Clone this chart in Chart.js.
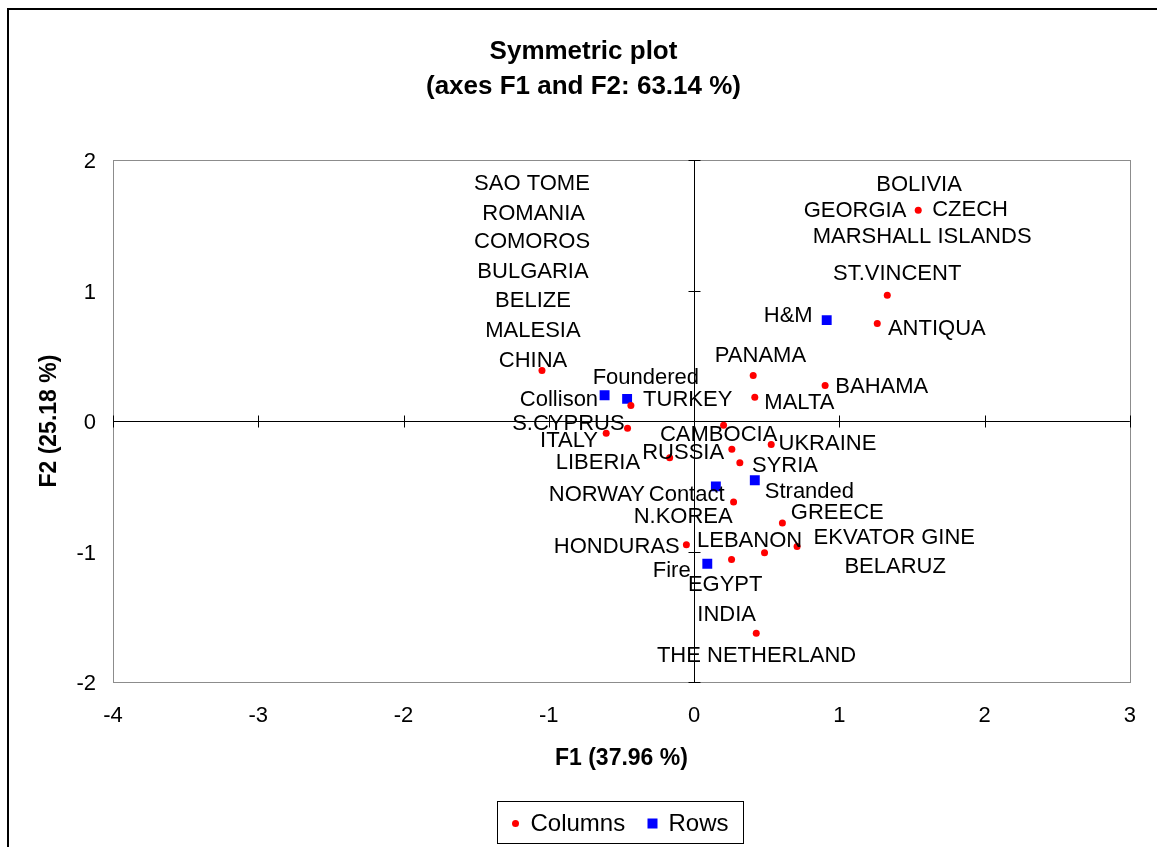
<!DOCTYPE html>
<html>
<head>
<meta charset="utf-8">
<title>Symmetric plot</title>
<script src="https://cdn.jsdelivr.net/npm/chart.js@4/dist/chart.umd.min.js"></script>
<style>
  html, body { margin: 0; padding: 0; background: #ffffff; }
  #wrap { width: 1157px; height: 847px; }
</style>
</head>
<body>
<div id="wrap"><canvas id="scatterChart"></canvas></div>
<script>
// Columns (red dots)
const columnsX = [-1.047, -0.435, -0.458, -0.605, -0.168, 0.203, 0.260, 0.315, 0.531, 0.272, 0.608,
                  0.407, 0.418, 0.902, -0.053, 0.258, 0.485, 0.709, 0.428, 1.543, 1.330, 1.261];
const columnsY = [0.388, 0.119, -0.055, -0.094, -0.280, -0.032, -0.216, -0.319, -0.180, -0.620, -0.782,
                  0.349, 0.183, 0.273, -0.948, -1.061, -1.010, -0.961, -1.626, 1.616, 0.964, 0.749];

// Rows (blue squares): Collison, Foundered, Contact, Stranded, H&M, Fire
const rowsX = [-0.616, -0.461, 0.150, 0.418, 0.913, 0.091];
const rowsY = [0.198, 0.170, -0.500, -0.454, 0.774, -1.094];

const xTickValues = [-4, -3, -2, -1, 0, 1, 2, 3];
const yTickValues = [-2, -1, 0, 1, 2];

const pointNames = ["SAO TOME", "ROMANIA", "COMOROS", "BULGARIA", "BELIZE", "MALESIA", "CHINA",
    "Foundered", "Collison", "TURKEY", "S.CYPRUS", "ITALY", "LIBERIA", "CAMBOCIA", "RUSSIA",
    "UKRAINE", "SYRIA", "NORWAY", "Contact", "Stranded", "N.KOREA", "GREECE", "EKVATOR GINE",
    "HONDURAS", "LEBANON", "BELARUZ", "Fire", "EGYPT", "INDIA", "THE NETHERLAND", "BOLIVIA",
    "GEORGIA", "CZECH", "MARSHALL ISLANDS", "ST.VINCENT", "H&M", "ANTIQUA", "PANAMA", "BAHAMA", "MALTA"];

// where each name sits, in axis units (label layout, as placed in the original)
const nameAnchors = [
    [-1.116, 1.836], [-1.104, 1.606], [-1.115, 1.388], [-1.109, 1.158], [-1.109, 0.933],
    [-1.109, 0.710], [-1.109, 0.480], [-0.332, 0.344], [-0.930, 0.178], [-0.044, 0.178],
    [-0.865, -0.009], [-0.861, -0.134], [-0.662, -0.309], [0.169, -0.088], [-0.075, -0.232],
    [0.918, -0.163], [0.626, -0.326], [-0.669, -0.547], [-0.051, -0.547], [0.794, -0.526],
    [-0.075, -0.723], [0.986, -0.687], [1.378, -0.879], [-0.532, -0.948], [0.382, -0.904],
    [1.384, -1.102], [-0.154, -1.132], [0.214, -1.240], [0.224, -1.468], [0.430, -1.785],
    [1.549, 1.823], [1.108, 1.629], [1.900, 1.637], [1.570, 1.424], [1.398, 1.146],
    [0.648, 0.825], [1.671, 0.720], [0.457, 0.516], [1.292, 0.278], [0.725, 0.152]
];

const FONT = "'Liberation Sans', Arial, Helvetica, sans-serif";

const decorations = {
    id: "decorations",
    beforeDatasetsDraw(chart) {
        const ctx = chart.ctx;
        const area = chart.chartArea;
        const xs = chart.scales.x;
        const ys = chart.scales.y;
        ctx.save();
        // plot frame
        ctx.strokeStyle = "#8c8c8c";
        ctx.lineWidth = 1;
        ctx.strokeRect(Math.round(area.left) + 0.5, Math.round(area.top) + 0.5,
            Math.round(area.right - area.left), Math.round(area.bottom - area.top));
        // tick marks on the zero axes
        ctx.strokeStyle = "#000000";
        const y0 = Math.round(ys.getPixelForValue(0)) + 0.5;
        const x0 = Math.round(xs.getPixelForValue(0)) + 0.5;
        ctx.beginPath();
        xTickValues.forEach((v) => {
            const px = Math.round(xs.getPixelForValue(v)) + 0.5;
            ctx.moveTo(px, y0 - 6);
            ctx.lineTo(px, y0 + 6);
        });
        yTickValues.forEach((v) => {
            const py = Math.round(ys.getPixelForValue(v)) + 0.5;
            ctx.moveTo(x0 - 6, py);
            ctx.lineTo(x0 + 6, py);
        });
        ctx.stroke();
        ctx.restore();
    },
    afterDatasetsDraw(chart) {
        const ctx = chart.ctx;
        const xs = chart.scales.x;
        const ys = chart.scales.y;
        ctx.save();
        ctx.font = "22px " + FONT;
        ctx.fillStyle = "#000000";
        ctx.textAlign = "center";
        ctx.textBaseline = "middle";
        pointNames.forEach((name, i) => {
            const a = nameAnchors[i];
            ctx.fillText(name, xs.getPixelForValue(a[0]), ys.getPixelForValue(a[1]) + 2);
        });
        ctx.restore();
    },
    afterDraw(chart) {
        const ctx = chart.ctx;
        const area = chart.chartArea;
        ctx.save();
        // outer chart frame
        ctx.strokeStyle = "#000000";
        ctx.lineWidth = 2;
        ctx.strokeRect(8, 9, chart.width + 10, chart.height + 10);
        // legend
        const boxW = 246, boxH = 42;
        const bx = Math.round((area.left + area.right) / 2 - boxW / 2) - 0.5;
        const by = chart.height - 46 + 0.5;
        ctx.lineWidth = 1;
        ctx.strokeRect(bx, by, boxW, boxH);
        const cy = by + boxH / 2;
        ctx.fillStyle = "#ff0000";
        ctx.beginPath();
        ctx.arc(bx + 18, cy + 1, 3.5, 0, Math.PI * 2);
        ctx.fill();
        ctx.fillStyle = "#0000ff";
        ctx.fillRect(bx + 150, cy - 4, 10, 10);
        ctx.fillStyle = "#000000";
        ctx.font = "24px " + FONT;
        ctx.textAlign = "left";
        ctx.textBaseline = "middle";
        ctx.fillText("Columns", bx + 33, cy + 2);
        ctx.fillText("Rows", bx + 171, cy + 2);
        ctx.restore();
    }
};

const zeroLine = (c) => (c.tick && c.tick.value === 0 ? "#000000" : "rgba(0,0,0,0)");

const scatterCtx = document.getElementById("scatterChart").getContext("2d");

const scatterChart = new Chart(scatterCtx, {
    type: "scatter",
    data: {
        datasets: [
            {
                label: "Columns",
                data: columnsX.map((x, i) => ({ x: x, y: columnsY[i] })),
                backgroundColor: "#ff0000",
                borderColor: "#ff0000",
                borderWidth: 0,
                pointStyle: "circle",
                pointRadius: 3.5,
            },
            {
                label: "Rows",
                data: rowsX.map((x, i) => ({ x: x, y: rowsY[i] })),
                backgroundColor: "#0000ff",
                borderColor: "#0000ff",
                borderWidth: 0,
                pointStyle: "rect",
                pointRadius: 7,
            },
        ],
    },
    plugins: [decorations],
    options: {
        responsive: true,
        maintainAspectRatio: false,
        animation: false,
        layout: { padding: { left: 10, right: 0, top: 0, bottom: 65 } },
        plugins: {
            legend: { display: false },
            tooltip: { enabled: false },
            title: {
                display: true,
                text: ["Symmetric plot", "(axes F1 and F2: 63.14 %)"],
                color: "#000000",
                font: { family: FONT, size: 26, weight: "bold", lineHeight: 1.35 },
                padding: { top: 34, bottom: 56 },
            },
        },
        scales: {
            x: {
                type: "linear",
                min: -4,
                max: 3,
                afterBuildTicks: (s) => { s.ticks = xTickValues.map((v) => ({ value: v })); },
                afterFit: (s) => { s.height = 100; },
                grid: { color: zeroLine, drawTicks: false, lineWidth: 1 },
                border: { display: false },
                ticks: { color: "#000000", padding: 21, font: { family: FONT, size: 22 } },
                title: {
                    display: true,
                    text: "F1 (37.96 %)",
                    color: "#000000",
                    font: { family: FONT, size: 23, weight: "bold" },
                    padding: { top: 0, bottom: 10 },
                },
            },
            y: {
                type: "linear",
                min: -2,
                max: 2,
                afterBuildTicks: (s) => { s.ticks = yTickValues.map((v) => ({ value: v })); },
                afterFit: (s) => { s.width = 103; },
                grid: { color: zeroLine, drawTicks: false, lineWidth: 1 },
                border: { display: false },
                ticks: { color: "#000000", padding: 17, labelOffset: 2, font: { family: FONT, size: 22 } },
                title: {
                    display: true,
                    text: "F2 (25.18 %)",
                    color: "#000000",
                    font: { family: FONT, size: 23, weight: "bold" },
                    padding: { top: 26, bottom: 0 },
                },
            },
            yr: {
                type: "linear",
                position: "right",
                display: true,
                grid: { display: false },
                border: { display: false },
                ticks: { display: false },
                afterFit: (s) => { s.width = 25; },
            },
        },
    },
});
</script>
</body>
</html>
